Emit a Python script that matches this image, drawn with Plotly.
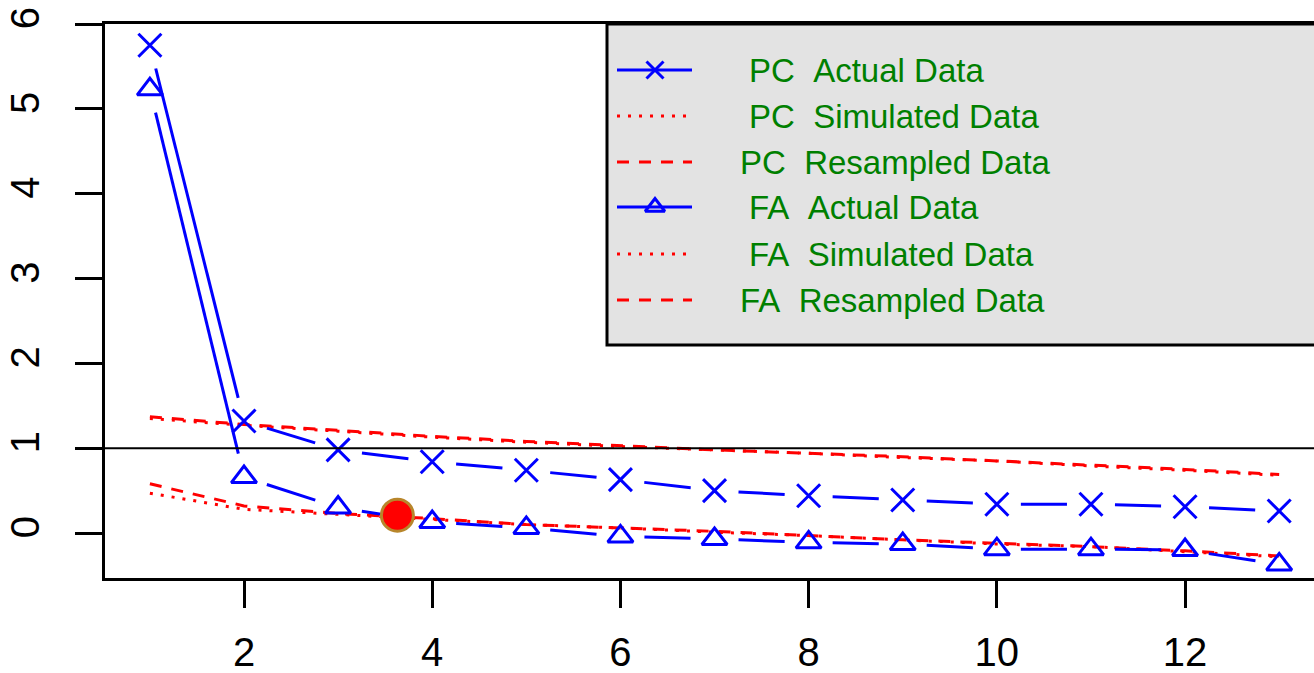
import plotly.graph_objects as go

# ---------------- data ----------------
factors = list(range(1, 14))
pc_actual = [5.75, 1.32, 0.98, 0.84, 0.74, 0.63, 0.50, 0.44, 0.39, 0.34, 0.34, 0.31, 0.26]
fa_actual = [5.23, 0.66, 0.30, 0.13, 0.06, -0.04, -0.07, -0.11, -0.13, -0.19, -0.19, -0.20, -0.37]
pc_simulated = [1.35, 1.27, 1.20, 1.13, 1.07, 1.02, 0.98, 0.94, 0.89, 0.85, 0.79, 0.74, 0.68]
pc_resampled = [1.37, 1.28, 1.21, 1.14, 1.08, 1.03, 0.98, 0.94, 0.90, 0.85, 0.80, 0.75, 0.69]
fa_simulated = [0.47, 0.28, 0.22, 0.16, 0.10, 0.06, 0.01, -0.03, -0.08, -0.13, -0.16, -0.22, -0.28]
fa_resampled = [0.58, 0.32, 0.23, 0.17, 0.10, 0.06, 0.02, -0.03, -0.08, -0.12, -0.16, -0.21, -0.27]
highlight_x = [3.63]
highlight_y = [0.21]
reference_level = 1
x_ticks = [2, 4, 6, 8, 10, 12]
y_ticks = [0, 1, 2, 3, 4, 5, 6]
legend_labels = ["PC\u00a0\u00a0Actual Data", "PC\u00a0\u00a0Simulated Data", "PC\u00a0\u00a0Resampled Data",
                 "FA\u00a0\u00a0Actual Data", "FA\u00a0\u00a0Simulated Data", "FA\u00a0\u00a0Resampled Data"]

# ---------------- geometry ----------------
W_FIG, H_FIG = 1314, 673
L, T = 105, 24
R_PX, B_PX = 1314, 578
PW, PH = R_PX - L, B_PX - T
XR = [0.523, 13.37]
YR = [-0.53, 6.0]

BLUE = "#0000FF"
RED = "#FF0000"
GREEN = "#008000"
TICKFONT = dict(family="Liberation Sans, Arial, sans-serif", size=40, color="black")
LEGFONT = dict(family="Liberation Sans Narrow, Arial Narrow, Liberation Sans, sans-serif", size=33, color=GREEN)


def to_px(x, y):
    return (L + (x - XR[0]) / (XR[1] - XR[0]) * PW,
            T + (YR[1] - y) / (YR[1] - YR[0]) * PH)


def to_data(px, py):
    return (XR[0] + (px - L) / PW * (XR[1] - XR[0]),
            YR[1] - (py - T) / PH * (YR[1] - YR[0]))


def gapped(xs, ys, gap=24):
    """R type='b': line segments with gaps around the points."""
    ox, oy = [], []
    for i in range(len(xs) - 1):
        x0, y0 = to_px(xs[i], ys[i])
        x1, y1 = to_px(xs[i + 1], ys[i + 1])
        dx, dy = x1 - x0, y1 - y0
        d = (dx * dx + dy * dy) ** 0.5
        if d <= 2 * gap:
            continue
        ux, uy = dx / d, dy / d
        a = to_data(x0 + ux * gap, y0 + uy * gap)
        b = to_data(x1 - ux * gap, y1 - uy * gap)
        ox += [a[0], b[0], None]
        oy += [a[1], b[1], None]
    return ox, oy


fig = go.Figure()

DOT = "3px,8px"
DASH = "12px,10px"

# red reference curves
fig.add_trace(go.Scatter(x=factors, y=pc_simulated, mode="lines",
                         line=dict(color=RED, width=3, dash=DOT), showlegend=False))
fig.add_trace(go.Scatter(x=factors, y=pc_resampled, mode="lines",
                         line=dict(color=RED, width=3, dash=DASH), showlegend=False))
fig.add_trace(go.Scatter(x=factors, y=fa_simulated, mode="lines",
                         line=dict(color=RED, width=3, dash=DOT), showlegend=False))
fig.add_trace(go.Scatter(x=factors, y=fa_resampled, mode="lines",
                         line=dict(color=RED, width=3, dash=DASH), showlegend=False))

# actual data (type = "b")
for ys, sym, size in [(pc_actual, "x-thin", 23), (fa_actual, "triangle-up-open", 22)]:
    gx, gy = gapped(factors, ys)
    fig.add_trace(go.Scatter(x=gx, y=gy, mode="lines", line=dict(color=BLUE, width=3),
                             showlegend=False, connectgaps=False))
    fig.add_trace(go.Scatter(x=factors, y=ys, mode="markers",
                             marker=dict(symbol=sym, size=size, color=BLUE,
                                         line=dict(color=BLUE, width=3)),
                             showlegend=False))

# highlighted point
fig.add_trace(go.Scatter(x=highlight_x, y=highlight_y, mode="markers",
                         marker=dict(symbol="circle", size=32, color=RED,
                                     line=dict(color="#B8862B", width=3)),
                         showlegend=False))

# reference line
fig.add_shape(type="line", xref="paper", x0=0, x1=1, yref="y", y0=reference_level, y1=reference_level,
              line=dict(color="black", width=2))

# ---------------- manual legend (pixel overlay axes) ----------------
leg_left, leg_bottom = 607, 345
fig.add_shape(type="rect", xref="x2", yref="y2", x0=leg_left, x1=1330, y0=T, y1=leg_bottom,
              fillcolor="#E3E3E3", line=dict(color="black", width=3), layer="below")

rows = [70, 116, 162, 207, 254, 300]
text_x = [747, 747, 738, 747, 747, 738]
styles = [("solid", "x-thin", 17), (DOT, None, 0), (DASH, None, 0),
          ("solid", "triangle-up-open", 17), (DOT, None, 0), (DASH, None, 0)]
colors = [BLUE, RED, RED, BLUE, RED, RED]
for ry, tx, (dash, sym, msize), col, lab in zip(rows, text_x, styles, colors, legend_labels):
    fig.add_trace(go.Scatter(x=[617, 692], y=[ry, ry], mode="lines", xaxis="x2", yaxis="y2",
                             line=dict(color=col, width=3, dash=dash), showlegend=False))
    if sym:
        fig.add_trace(go.Scatter(x=[655], y=[ry], mode="markers", xaxis="x2", yaxis="y2",
                                 marker=dict(symbol=sym, size=msize, color=col,
                                             line=dict(color=col, width=3)),
                                 showlegend=False))
    fig.add_annotation(x=tx, y=ry, xref="x2", yref="y2", text=lab, showarrow=False,
                       xanchor="left", yanchor="middle", font=LEGFONT)

axis_common = dict(showgrid=False, zeroline=False, showline=True, linecolor="black", linewidth=3,
                   ticks="outside", ticklen=27, tickwidth=3, tickcolor="black", tickfont=TICKFONT,
                   automargin=False)

fig.update_layout(
    width=W_FIG, height=H_FIG,
    margin=dict(l=L, r=W_FIG - R_PX, t=T, b=H_FIG - B_PX, pad=0, autoexpand=False),
    paper_bgcolor="white", plot_bgcolor="white",
    xaxis=dict(range=XR, tickvals=x_ticks, mirror=True, ticklabelstandoff=10, **axis_common),
    yaxis=dict(range=YR, tickvals=y_ticks, tickangle=-90, ticklabelstandoff=20, **axis_common),
    xaxis2=dict(range=[L, R_PX], overlaying="x", visible=False, fixedrange=True),
    yaxis2=dict(range=[B_PX, T], overlaying="y", visible=False, fixedrange=True),
    showlegend=False,
)

fig.write_html("out.html")
